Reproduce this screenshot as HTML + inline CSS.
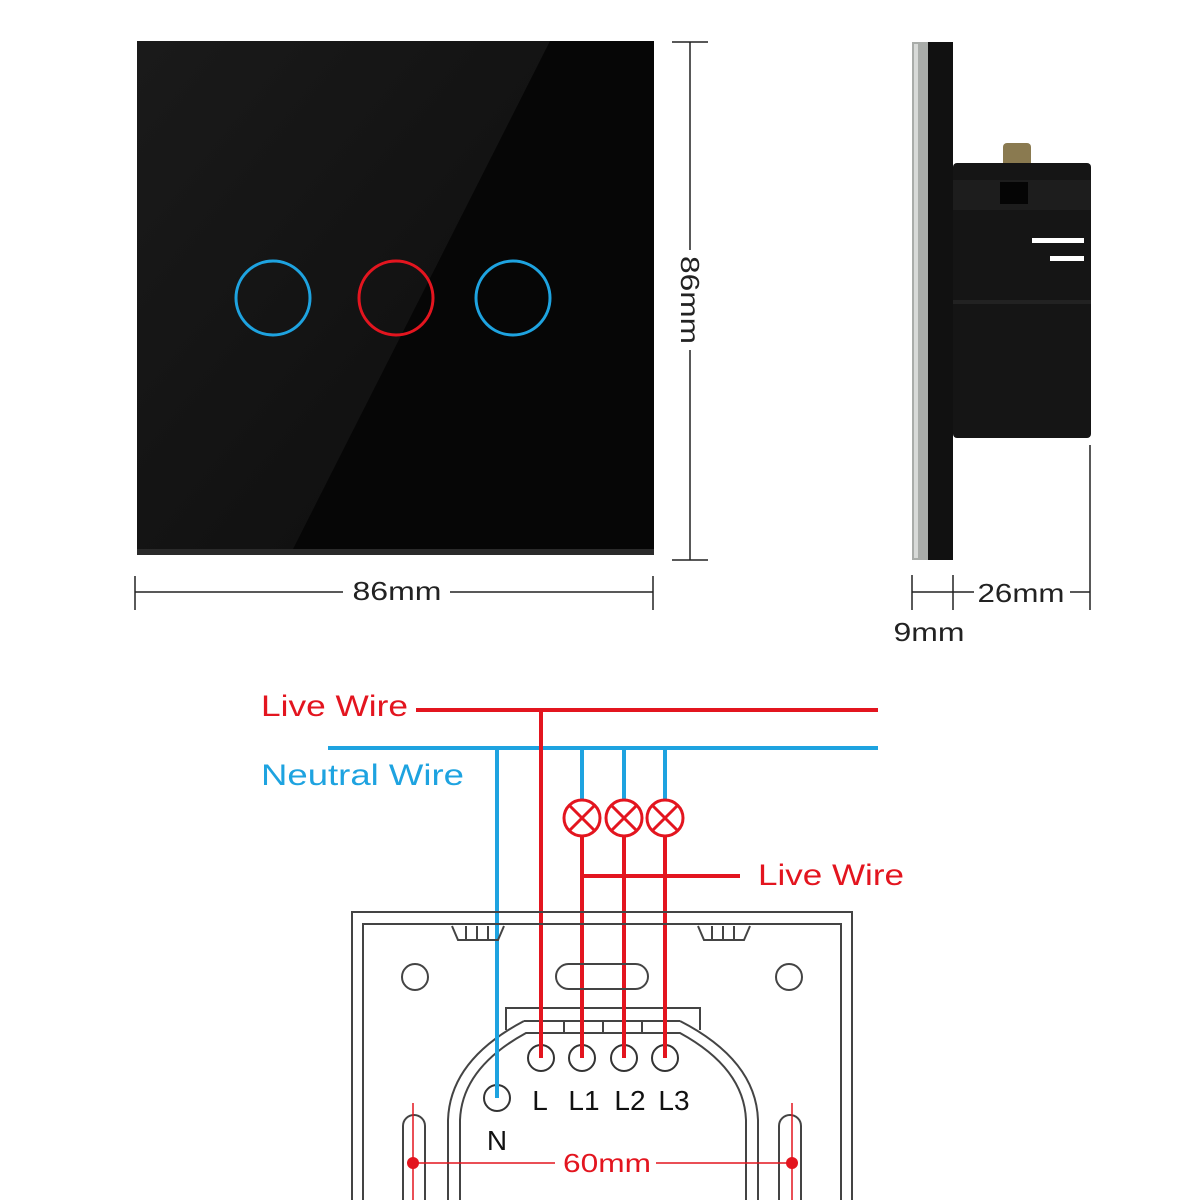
<!DOCTYPE html><html><head><style>body{margin:0;background:#fff}svg{display:block}text{font-family:"Liberation Sans",sans-serif}</style></head><body>
<svg width="1200" height="1200" viewBox="0 0 1200 1200" xmlns="http://www.w3.org/2000/svg">
<defs><linearGradient id="g" x1="0" y1="0" x2="1" y2="1"><stop offset="0" stop-color="#1a1a1a"/><stop offset="1" stop-color="#0d0d0d"/></linearGradient></defs>
<rect x="137" y="41" width="517" height="514" fill="#060606"/>
<polygon points="137,41 550,41 290,555 137,555" fill="url(#g)"/>
<rect x="137" y="549" width="517" height="6" fill="#2a2a2a"/>
<circle cx="273" cy="298" r="37" fill="none" stroke="#1ea3e0" stroke-width="3"/>
<circle cx="396" cy="298" r="37" fill="none" stroke="#e3151f" stroke-width="3"/>
<circle cx="513" cy="298" r="37" fill="none" stroke="#1ea3e0" stroke-width="3"/>
<g stroke="#222" stroke-width="1.5" fill="none">
<line x1="690" y1="42" x2="690" y2="250"/><line x1="690" y1="350" x2="690" y2="560"/>
<line x1="672" y1="42" x2="708" y2="42"/><line x1="672" y1="560" x2="708" y2="560"/>
<line x1="135" y1="592" x2="343" y2="592"/><line x1="450" y1="592" x2="653" y2="592"/>
<line x1="135" y1="576" x2="135" y2="610"/><line x1="653" y1="576" x2="653" y2="610"/>
<line x1="912" y1="575" x2="912" y2="610"/><line x1="953" y1="575" x2="953" y2="610"/><line x1="1090" y1="445" x2="1090" y2="610"/>
<line x1="912" y1="592" x2="974" y2="592"/><line x1="1070" y1="592" x2="1090" y2="592"/>
</g>
<text x="690" y="300" font-size="26" fill="#222" text-anchor="middle" transform="rotate(90 690 300)" dy="9" textLength="88" lengthAdjust="spacingAndGlyphs">86mm</text>
<text x="397" y="600" font-size="26" fill="#222" text-anchor="middle" textLength="89" lengthAdjust="spacingAndGlyphs">86mm</text>
<text x="1021" y="602" font-size="26" fill="#222" text-anchor="middle" textLength="87" lengthAdjust="spacingAndGlyphs">26mm</text>
<text x="929" y="641" font-size="26" fill="#222" text-anchor="middle" textLength="71" lengthAdjust="spacingAndGlyphs">9mm</text>
<!-- side -->
<rect x="912" y="42" width="17" height="518" fill="#a9aca9"/>
<rect x="914" y="44" width="4" height="514" fill="#d8dad8"/>
<rect x="928" y="42" width="25" height="518" fill="#111"/>
<rect x="1003" y="143" width="28" height="24" fill="#8a7a50" rx="4"/>
<rect x="953" y="163" width="138" height="275" fill="#151515" rx="4"/>
<rect x="953" y="180" width="138" height="30" fill="#1d1d1d"/>
<rect x="1000" y="182" width="28" height="22" fill="#050505"/>
<rect x="1032" y="238" width="52" height="5" fill="#fff"/>
<rect x="1050" y="256" width="34" height="5" fill="#fff"/>
<rect x="953" y="300" width="138" height="4" fill="#222"/>
<!-- wiring -->
<g fill="none" stroke-width="4">
<line x1="416" y1="710" x2="878" y2="710" stroke="#e3151f"/>
<line x1="328" y1="748" x2="878" y2="748" stroke="#1ea3e0"/>
<line x1="541" y1="710" x2="541" y2="1058" stroke="#e3151f"/>
<line x1="497" y1="748" x2="497" y2="1098" stroke="#1ea3e0"/>
<line x1="582" y1="748" x2="582" y2="800" stroke="#1ea3e0"/>
<line x1="624" y1="748" x2="624" y2="800" stroke="#1ea3e0"/>
<line x1="665" y1="748" x2="665" y2="800" stroke="#1ea3e0"/>
<line x1="582" y1="836" x2="582" y2="1058" stroke="#e3151f"/>
<line x1="624" y1="836" x2="624" y2="1058" stroke="#e3151f"/>
<line x1="665" y1="836" x2="665" y2="1058" stroke="#e3151f"/>
<line x1="582" y1="876" x2="740" y2="876" stroke="#e3151f"/>
</g>
<g fill="#fff" stroke="#e3151f" stroke-width="3">
<circle cx="582" cy="818" r="18"/><circle cx="624" cy="818" r="18"/><circle cx="665" cy="818" r="18"/>
<path d="M569 805l26 26M595 805l-26 26M611 805l26 26M637 805l-26 26M652 805l26 26M678 805l-26 26"/>
</g>
<text x="261" y="716" font-size="30" fill="#e3151f" textLength="147" lengthAdjust="spacingAndGlyphs">Live Wire</text>
<text x="261" y="785" font-size="30" fill="#1ea3e0" textLength="203" lengthAdjust="spacingAndGlyphs">Neutral Wire</text>
<text x="758" y="885" font-size="30" fill="#e3151f" textLength="146" lengthAdjust="spacingAndGlyphs">Live Wire</text>
<!-- plate -->
<g fill="none" stroke="#444" stroke-width="2">
<path d="M352 1200V912H852V1200"/><path d="M363 1200V924H841V1200"/>
<path d="M452 926l6 14h40l6-14M698 926l6 14h40l6-14M466 926v14M477 926v14M488 926v14M712 926v14M723 926v14M734 926v14"/>
<circle cx="415" cy="977" r="13"/><circle cx="789" cy="977" r="13"/>
<rect x="556" y="964" width="92" height="25" rx="12.5"/>
<path d="M506 1030V1008H700V1030"/>
<path d="M524 1021H680M564 1021v12M603 1021v12M642 1021v12"/>
<path d="M448 1200V1120Q450 1060 524 1021"/><path d="M460 1200V1120Q462 1068 526 1033H680Q744 1068 746 1120V1200"/>
<path d="M758 1200V1120Q756 1060 680 1021"/>
<rect x="403" y="1115" width="22" height="100" rx="11"/><rect x="779" y="1115" width="22" height="100" rx="11"/>
</g>
<g fill="#fff" stroke="#333" stroke-width="2">
<circle cx="541" cy="1058" r="13"/><circle cx="582" cy="1058" r="13"/><circle cx="624" cy="1058" r="13"/><circle cx="665" cy="1058" r="13"/><circle cx="497" cy="1098" r="13"/>
</g>
<g stroke="#e3151f" stroke-width="4"><line x1="541" y1="1000" x2="541" y2="1058"/><line x1="582" y1="1000" x2="582" y2="1058"/><line x1="624" y1="1000" x2="624" y2="1058"/><line x1="665" y1="1000" x2="665" y2="1058"/></g>
<line x1="497" y1="1000" x2="497" y2="1098" stroke="#1ea3e0" stroke-width="4"/>
<g font-size="28" fill="#111" text-anchor="middle"><text x="540" y="1110">L</text><text x="584" y="1110">L1</text><text x="630" y="1110">L2</text><text x="674" y="1110">L3</text><text x="497" y="1150">N</text></g>
<g stroke="#e3151f" stroke-width="1.5"><line x1="413" y1="1103" x2="413" y2="1200"/><line x1="792" y1="1103" x2="792" y2="1200"/><line x1="413" y1="1163" x2="555" y2="1163"/><line x1="656" y1="1163" x2="792" y2="1163"/></g>
<circle cx="413" cy="1163" r="6" fill="#e3151f"/><circle cx="792" cy="1163" r="6" fill="#e3151f"/>
<text x="607" y="1172" font-size="26" fill="#e3151f" text-anchor="middle" textLength="88" lengthAdjust="spacingAndGlyphs">60mm</text>
</svg></body></html>
